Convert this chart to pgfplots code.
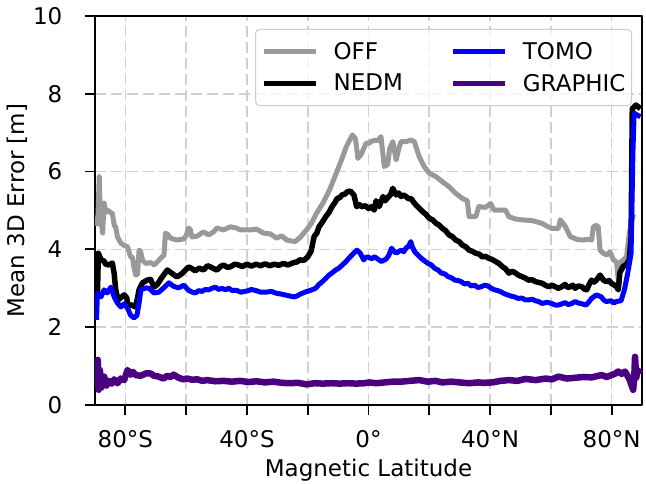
\documentclass[border=0pt]{standalone}
\usepackage{fontspec}
\setmainfont{DejaVu Sans}
\usepackage{pgfplots}
\pgfplotsset{compat=1.18}
\definecolor{offgray}{RGB}{153,153,153}
\definecolor{graphic}{RGB}{75,0,130}
\begin{document}
\begin{tikzpicture}
\useasboundingbox (-95pt,-79pt) rectangle (551pt,405pt);
\begin{axis}[
 at={(0pt,0pt)}, anchor=south west,
 scale only axis, width=547pt, height=389pt,
 xmin=-90, xmax=90, ymin=0, ymax=10,
 font=\fontsize{23}{27}\selectfont,
 xtick={-80,-60,...,80},
 xticklabels={80°S,,40°S,,0°,,40°N,,80°N},
 ytick={0,2,...,10}, yticklabels={0,2,4,6,8,10},
 tick pos=left, tick align=outside,
 major tick length=10pt,
 tick style={line width=1.8pt, black},
 axis line style={line width=1.8pt},
 grid=major,
 major grid style={black!18, line width=1.6pt, dash pattern=on 11pt off 5pt},
 yticklabel style={anchor=east, inner sep=0pt, xshift=-22.5pt},
 xticklabel style={anchor=north, inner sep=0pt, yshift=-15pt},
 xlabel={Magnetic Latitude}, ylabel={Mean 3D Error [m]},
 xlabel style={at={(axis description cs:0.5,-0.184)}, anchor=base},
 ylabel style={at={(axis description cs:-0.128,0.5)}, anchor=base},
 legend image code/.code={\draw[#1] (0pt,0pt) -- (52pt,0pt);},
 legend cell align=left,
 legend style={at={(axis description cs:1,1)}, anchor=north east, xshift=-10pt, yshift=-13pt,
   draw=black!20, line width=1pt, rounded corners=4pt, fill=white, fill opacity=0.8, text opacity=1, draw opacity=1,
   inner xsep=6pt, inner ysep=13pt, row sep=13pt, column sep=15pt,
   /tikz/every even column/.append style={column sep=48pt},
   nodes={inner sep=0pt}},
 legend columns=2,
 line join=round,
]
\addlegendimage{offgray, line width=5pt}\addlegendentry{OFF}
\addlegendimage{blue, line width=5pt}\addlegendentry{TOMO}
\addlegendimage{black, line width=5pt}\addlegendentry{NEDM}
\addlegendimage{graphic, line width=5pt}\addlegendentry{GRAPHIC}

% OFF
\addplot[offgray, line width=5pt, forget plot] coordinates {
(-89.5,4.6) (-89.0,4.9) (-88.6,5.87) (-88.3,5.0) (-87.5,4.42) (-87.0,5.19) (-86.4,4.95) (-85.9,5.01)
(-85.0,4.95) (-84.3,4.93) (-83.6,4.6) (-83.2,4.58) (-82.6,4.32) (-81.5,4.16) (-80.4,4.1) (-79.3,4.07)
(-78.3,3.81) (-77.7,3.8) (-77.2,3.55) (-76.6,3.34) (-76.0,3.36) (-75.5,3.98) (-75.0,3.95) (-74.4,3.73)
(-73.3,3.64) (-71.7,3.66) (-70.5,3.6) (-69.5,3.68) (-67.9,3.81) (-67.3,3.85) (-66.8,4.42) (-66.0,4.38)
(-65.2,4.29) (-63.0,4.24) (-60.8,4.27) (-60.0,4.35) (-59.2,4.55) (-58.6,4.5) (-58.1,4.32) (-56.4,4.34)
(-54.3,4.45) (-52.6,4.37) (-51.0,4.45) (-49.9,4.55) (-47.7,4.5) (-45.5,4.58) (-43.5,4.55) (-42.2,4.50)
(-39.0,4.50) (-36.8,4.52) (-34.6,4.42) (-32.4,4.40) (-30.2,4.29) (-28.6,4.35) (-26.9,4.24) (-24.2,4.20)
(-22.6,4.30) (-20.4,4.50) (-18.8,4.67) (-17.1,4.93) (-15.0,5.19) (-12.8,5.53) (-10.6,5.96) (-8.9,6.30)
(-7.3,6.64) (-6.2,6.81) (-5.3,6.94) (-4.3,6.85) (-3.5,6.34) (-2.4,6.45) (-0.8,6.73) (0.3,6.73)
(0.9,6.78) (2.0,6.80) (3.1,6.80) (4.1,6.90) (5.2,6.13) (6.3,6.18) (7.0,6.6) (8.0,6.77) (9.1,6.30)
(10.0,6.6) (10.7,6.77) (12.3,6.77) (14.0,6.81) (15.1,6.77) (16.7,6.38) (18.3,6.13) (20.0,5.96)
(22.2,5.87) (24.3,5.74) (26.5,5.61) (28.7,5.44) (30.9,5.31) (32.5,5.25) (33.1,4.84) (35.3,4.84)
(36.3,5.10) (38.5,5.08) (40.2,5.18) (41.3,5.01) (42.9,5.01) (45.1,5.01) (46.2,4.84) (48.4,4.78)
(50.5,4.76) (53.8,4.74) (57.1,4.67) (58.7,4.6) (60.3,4.54) (62.5,4.54) (63.1,4.76) (64.7,4.6)
(66.4,4.33) (68.5,4.26) (70.2,4.24) (72.4,4.26) (73.4,4.24) (74.0,4.58) (75.1,4.62) (75.6,4.58)
(76.2,3.98) (77.3,3.90) (78.4,3.86) (79.5,3.93) (80.6,3.73) (81.6,3.68) (82.2,3.21) (83.1,3.68)
(83.8,3.73) (84.9,3.8) (85.8,4.41) (86.3,4.6) (87.2,4.9)
};
% NEDM
\addplot[black, line width=5.5pt, forget plot] coordinates {
(-89.5,3.86) (-89.2,2.8) (-88.9,3.9) (-88.0,3.73) (-87.0,3.7) (-86.5,3.62) (-85.5,3.6) (-84.3,3.65)
(-83.7,3.39) (-83.2,2.96) (-82.4,2.7) (-81.5,2.76) (-80.4,2.83) (-79.5,2.75) (-79.3,2.52) (-78.3,2.58)
(-76.6,2.52) (-75.5,2.96) (-74.4,3.14) (-72.8,3.21) (-71.7,3.23) (-70.6,3.03) (-69.5,3.1) (-67.9,3.29)
(-66.2,3.47) (-64.6,3.38) (-63.0,3.29) (-61.4,3.38) (-59.2,3.55) (-58.0,3.5) (-57.0,3.45) (-55.7,3.52)
(-54.3,3.47) (-53.0,3.58) (-52.0,3.55) (-50.8,3.5) (-49.9,3.47) (-48.7,3.56) (-47.7,3.6) (-46.5,3.54)
(-45.5,3.55) (-44.0,3.62) (-42.8,3.6) (-41.5,3.56) (-40.0,3.62) (-38.5,3.57) (-37.0,3.62) (-35.5,3.58)
(-34.0,3.63) (-32.5,3.58) (-31.0,3.62) (-29.5,3.59) (-28.0,3.64) (-26.5,3.6) (-25.0,3.65) (-23.5,3.68)
(-22.6,3.73) (-21.2,3.72) (-20.0,3.81) (-18.9,3.95) (-17.9,4.33) (-17.0,4.42) (-16.3,4.58) (-15.2,4.7)
(-14.1,4.84) (-13.0,4.95) (-12.0,5.10) (-11.1,5.2) (-10.3,5.31) (-9.5,5.33) (-8.7,5.40) (-7.8,5.42)
(-7.0,5.48) (-6.0,5.50) (-4.8,5.40) (-3.9,5.10) (-3.0,5.15) (-2.2,5.10) (-1.0,5.12) (0.0,5.05) (1.0,5.1)
(1.9,5.01) (2.5,5.25) (3.5,5.10) (4.8,5.36) (5.5,5.25) (6.3,5.33) (7.2,5.4) (8.0,5.57) (9.1,5.40) (9.9,5.45)
(10.7,5.36) (11.5,5.4) (12.3,5.36) (13.2,5.3) (14.0,5.31) (14.8,5.22) (15.6,5.14) (16.7,5.06) (17.8,4.97)
(18.9,4.9) (20.0,4.80) (21.1,4.76) (22.2,4.67) (23.2,4.63) (24.3,4.54) (25.4,4.48) (26.5,4.37) (27.6,4.33)
(28.7,4.24) (29.8,4.2) (30.9,4.11) (32.0,4.07) (33.1,3.98) (34.2,3.95) (35.3,3.90) (36.4,3.88) (37.4,3.81)
(38.5,3.82) (39.6,3.77) (40.7,3.74) (41.8,3.69) (42.9,3.64) (44.0,3.56) (45.1,3.5) (46.2,3.39) (47.3,3.44)
(48.4,3.39) (49.5,3.33) (50.5,3.3) (51.6,3.26) (52.7,3.21) (53.8,3.22) (55.0,3.17) (56.0,3.15) (57.1,3.13)
(58.2,3.08) (59.3,3.04) (60.4,3.08) (61.4,3.04) (62.5,3.0) (63.6,3.04) (64.7,3.1) (65.5,3.02) (66.4,3.04)
(67.2,3.08) (68.0,3.00) (69.0,3.06) (70.2,3.04) (71.0,2.98) (71.8,2.96) (72.6,3.1) (73.4,3.21) (74.2,3.16)
(75.0,3.21) (76.2,3.34) (77.3,3.21) (78.4,3.17) (79.2,3.2) (80.0,3.12) (80.6,3.10) (81.6,3.04) (82.2,2.96)
(82.7,3.4) (83.8,3.56) (84.9,3.62) (85.8,3.73) (86.4,4.3) (86.8,7.62) (88.0,7.71) (89.5,7.62)
};
% TOMO
\addplot[blue, line width=5pt, forget plot] coordinates {
(-89.5,2.19) (-89.2,2.88) (-88.0,2.78) (-87.0,2.96) (-86.0,2.88) (-84.8,3.03) (-83.7,2.78) (-82.6,2.62)
(-81.5,2.52) (-80.4,2.6) (-79.3,2.49) (-78.3,2.31) (-77.2,2.24) (-76.2,2.3) (-75.5,2.62) (-74.9,2.96)
(-73.3,3.01) (-72.2,3.0) (-70.6,2.88) (-69.0,2.9) (-67.4,3.01) (-65.7,3.14) (-64.1,3.05) (-62.5,3.01)
(-60.8,3.08) (-59.2,2.95) (-58.0,2.9) (-57.0,2.88) (-55.9,2.94) (-54.8,2.92) (-53.7,2.97) (-52.6,2.96)
(-51.5,3.0) (-50.4,3.03) (-49.3,2.97) (-48.2,3.0) (-47.0,2.96) (-46.0,3.0) (-44.8,2.94) (-43.5,2.95)
(-42.0,2.9) (-40.0,2.93) (-38.5,2.97) (-37.0,2.94) (-35.4,2.9) (-33.7,2.9) (-32.0,2.92) (-30.2,2.87)
(-28.6,2.85) (-27.0,2.82) (-25.8,2.8) (-24.5,2.78) (-23.5,2.8) (-22.5,2.85) (-20.6,2.91) (-19.0,2.95)
(-17.4,3.00) (-16.3,3.1) (-15.2,3.17) (-14.1,3.25) (-13.0,3.34) (-11.9,3.4) (-10.8,3.47) (-9.7,3.52)
(-8.6,3.60) (-7.5,3.68) (-6.5,3.77) (-4.9,3.90) (-3.8,3.98) (-2.7,3.90) (-1.6,3.73) (-0.8,3.8) (0.0,3.80)
(1.0,3.76) (2.0,3.81) (3.1,3.75) (4.2,3.69) (5.8,3.75) (6.7,3.85) (7.6,4.03) (8.4,3.95) (9.2,3.90) (10.0,3.95)
(10.8,3.98) (11.6,3.94) (12.5,4.05) (13.2,4.08) (13.9,4.20) (14.5,4.05) (15.2,3.94) (16.3,3.85) (17.4,3.77)
(18.5,3.7) (19.6,3.64) (20.7,3.6) (21.8,3.51) (22.9,3.47) (24.0,3.39) (25.1,3.37) (26.2,3.30) (27.3,3.27)
(28.4,3.21) (29.5,3.2) (30.5,3.17) (31.6,3.11) (32.7,3.13) (33.8,3.06) (34.9,3.08) (36.0,3.02) (37.1,3.04)
(38.2,3.08) (39.3,3.06) (40.4,3.0) (41.5,2.96) (42.6,2.94) (43.6,2.91) (44.7,2.86) (45.8,2.83) (46.9,2.8)
(48.0,2.78) (49.2,2.74) (50.5,2.75) (51.6,2.7) (52.7,2.70) (53.8,2.72) (54.9,2.68) (56.0,2.66) (57.1,2.61)
(58.7,2.64) (60.3,2.61) (61.4,2.57) (62.5,2.57) (63.6,2.6) (64.7,2.63) (65.8,2.58) (66.9,2.61) (68.0,2.66)
(69.1,2.62) (70.3,2.6) (71.6,2.57) (72.5,2.65) (73.4,2.74) (75.0,2.83) (76.6,2.78) (77.4,2.7) (78.2,2.66)
(79.9,2.68) (80.7,2.62) (81.5,2.66) (83.1,2.68) (84.2,2.96) (85.3,3.39) (86.4,3.90) (87.0,6.47)
(87.4,7.50) (88.5,7.45) (89.5,7.41)
};
% GRAPHIC
\addplot[graphic, line width=6.5pt, forget plot] coordinates {
(-89.5,0.5) (-89.1,1.16) (-88.8,0.39) (-88.4,0.9) (-87.9,0.45) (-87.0,0.73) (-86.2,0.5) (-85.4,0.62)
(-84.5,0.55) (-83.7,0.66) (-82.6,0.56) (-81.5,0.68) (-80.4,0.64) (-79.3,0.90) (-78.3,0.78) (-77.5,0.85)
(-76.6,0.77) (-75.0,0.75) (-73.3,0.81) (-71.7,0.81) (-70.6,0.75) (-69.5,0.74) (-67.4,0.68) (-66.3,0.75)
(-65.2,0.72) (-64.1,0.78) (-62.5,0.7) (-61.0,0.66) (-59.7,0.68) (-58.0,0.65) (-56.4,0.66) (-54.7,0.62)
(-53.1,0.64) (-50.4,0.61) (-47.7,0.62) (-45.0,0.6) (-42.2,0.62) (-39.5,0.59) (-36.8,0.61) (-34.0,0.58)
(-31.3,0.60) (-28.6,0.57) (-25.9,0.56) (-23.2,0.57) (-20.4,0.53) (-17.7,0.56) (-15.0,0.55) (-12.3,0.56)
(-9.5,0.55) (-6.8,0.56) (-4.0,0.55) (-1.3,0.56) (0.3,0.58) (2.5,0.56) (5.3,0.58) (8.0,0.6) (10.8,0.6)
(13.5,0.62) (16.7,0.64) (19.5,0.6) (22.0,0.62) (24.3,0.58) (27.2,0.6) (30.0,0.58) (33.1,0.56)
(36.0,0.58) (38.0,0.57) (40.7,0.58) (43.5,0.62) (46.2,0.64) (49.0,0.62) (51.6,0.67) (55.0,0.64)
(58.2,0.68) (60.4,0.66) (62.5,0.73) (65.3,0.68) (68.0,0.7) (70.7,0.72) (73.4,0.71) (76.7,0.77)
(78.4,0.72) (80.0,0.77) (81.0,0.8) (82.2,0.86) (83.3,0.8) (84.4,0.86) (85.3,0.74) (86.0,0.64)
(86.6,0.5) (87.1,0.39) (87.5,0.8) (87.7,1.24) (88.1,0.7) (88.5,0.9) (89.5,0.8)
};
\end{axis}
\end{tikzpicture}
\end{document}
